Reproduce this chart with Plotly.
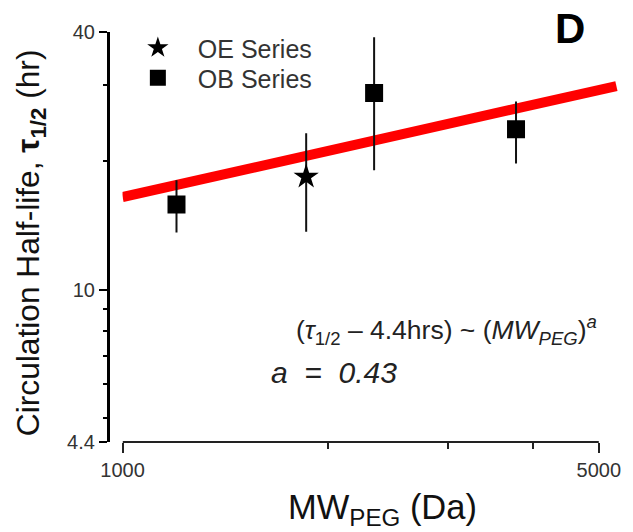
import math
import plotly.graph_objects as go

# ---- data ----
oe_mw = [1860]
oe_t = [18.35]
oe_err_plus = [4.85]
oe_err_minus = [4.7]

ob_mw = [1200, 2340, 3780]
ob_t = [15.8, 28.8, 23.7]
ob_err_plus = [2.2, 10.1, 3.8]
ob_err_minus = [2.2, 9.8, 4.0]

fit_mw = [1000, 5307]
fit_t = [16.45, 29.9]

x_tickvals = [1000, 5000]
x_minor = [2000, 3000, 4000]
y_tickvals = [4.4, 10, 40]
y_ticktext = ["4.4", "10", "40"]
y_minor = [5, 6, 7, 8, 9, 20, 30]

FONT = "Liberation Sans, Arial, sans-serif"
W, H = 633, 532
ML, MR, MT, MB = 80, 10, 32, 90
PW = W - ML - MR
PH = H - MT - MB


def px(xpix):
    return (xpix - ML) / PW


def py(ypix):
    return (H - MB - ypix) / PH


fig = go.Figure()

fig.add_trace(go.Scatter(
    x=fit_mw, y=fit_t, mode="lines",
    line=dict(color="#ff0000", width=10),
    showlegend=False, hoverinfo="skip"))

fig.add_trace(go.Scatter(
    x=oe_mw, y=oe_t, mode="markers", name="OE Series", legend="legend",
    marker=dict(symbol="star", size=19, color="black"),
    error_y=dict(type="data", symmetric=False, array=oe_err_plus,
                 arrayminus=oe_err_minus, color="#111111", thickness=2, width=0)))

fig.add_trace(go.Scatter(
    x=ob_mw, y=ob_t, mode="markers", name="OB Series", legend="legend2",
    marker=dict(symbol="square", size=18, color="black"),
    error_y=dict(type="data", symmetric=False, array=ob_err_plus,
                 arrayminus=ob_err_minus, color="#111111", thickness=2, width=0)))

legend_common = dict(
    xanchor="left", yanchor="top",
    bgcolor="rgba(0,0,0,0)", borderwidth=0,
    font=dict(size=25, color="#333333", family=FONT),
    itemwidth=70,
)

fig.update_layout(
    width=W, height=H,
    margin=dict(l=ML, r=MR, t=MT, b=MB),
    paper_bgcolor="white", plot_bgcolor="white",
    font=dict(family=FONT, color="#222222"),
    xaxis=dict(
        type="log", range=[3, math.log10(5350)],
        domain=[px(122.7), px(620.8)],
        showline=False, showgrid=False, zeroline=False,
        tickmode="array", tickvals=x_tickvals,
        ticktext=[str(v) for v in x_tickvals],
        ticks="outside", ticklen=10, tickwidth=2, tickcolor="#222222",
        tickfont=dict(size=20, color="#333333", family=FONT),
        minor=dict(tickmode="array", tickvals=x_minor, ticks="outside",
                   ticklen=6, tickwidth=2, tickcolor="#222222", showgrid=False),
    ),
    yaxis=dict(
        type="log", range=[math.log10(4.4), math.log10(40)],
        domain=[0, 1], anchor="free", position=px(108),
        showline=True, linecolor="black", linewidth=3,
        showgrid=False, zeroline=False,
        tickmode="array", tickvals=y_tickvals, ticktext=y_ticktext,
        ticks="outside", ticklen=8, tickwidth=2, tickcolor="black",
        tickfont=dict(size=20, color="#333333", family=FONT),
        minor=dict(tickmode="array", tickvals=y_minor, ticks="outside",
                   ticklen=4, tickwidth=2, tickcolor="black", showgrid=False),
    ),
    legend=dict(x=px(118), y=py(25), **legend_common),
    legend2=dict(x=px(118), y=py(55), **legend_common),
    shapes=[dict(type="line", xref="x", yref="paper",
                 x0=x_tickvals[0], x1=x_tickvals[-1], y0=0, y1=0,
                 line=dict(color="#222222", width=2), layer="above")],
    annotations=[
        dict(text="Circulation Half-life, <b>τ<sub>1/2</sub></b> (hr)",
             xref="paper", yref="paper", x=px(30), y=py(243),
             xanchor="center", yanchor="middle", textangle=-90,
             showarrow=False, font=dict(size=31.7, color="#111111", family=FONT)),
        dict(text="MW<sub>PEG</sub> (Da)",
             xref="paper", yref="paper", x=px(384), y=py(510),
             xanchor="center", yanchor="middle",
             showarrow=False, font=dict(size=34.5, color="#111111", family=FONT)),
        dict(text="(<i>τ</i><sub>1/2</sub> – 4.4hrs) ~ (<i>MW<sub>PEG</sub></i>)<sup><i>a</i></sup>",
             xref="paper", yref="paper", x=px(448), y=py(330),
             xanchor="center", yanchor="middle",
             showarrow=False, font=dict(size=26.5, color="#222222", family=FONT)),
        dict(text="<i>a&nbsp;&nbsp;=&nbsp;&nbsp;0.43</i>",
             xref="paper", yref="paper", x=px(335), y=py(372),
             xanchor="center", yanchor="middle",
             showarrow=False, font=dict(size=30, color="#222222", family=FONT)),
        dict(text="<b>D</b>",
             xref="paper", yref="paper", x=px(572), y=py(29),
             xanchor="center", yanchor="middle",
             showarrow=False, font=dict(size=42, color="black", family=FONT)),
    ],
)

fig.write_html("out.html", config={"displayModeBar": False},
               post_script="document.body.style.margin='0px';")
